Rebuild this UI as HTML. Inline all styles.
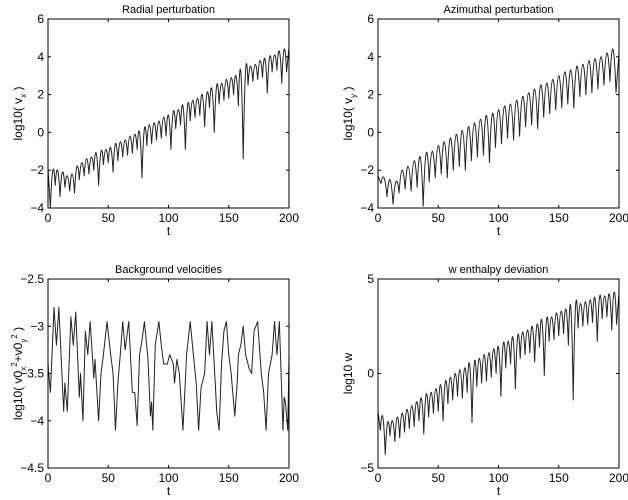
<!DOCTYPE html>
<html><head><meta charset="utf-8"><style>
body{margin:0;background:#fff}
svg{display:block;font-family:"Liberation Sans",Arial,sans-serif}
</style></head><body>
<svg id="fig" width="628" height="500" viewBox="0 0 628 500"></svg>
<script>
// ---- Data ----
const p1PeakT=[0,4,8,12,16,20,24,28,32,36,40,44,48,52,56,60,64,68,72,76,80,84,88,92,96,100,104,108,112,116,120,124,128,132,136,140,144,148,152,156,160,164,168,172,176,180,184,188,192,196,200];
const p1Peaks=[-1.9,-2.0,-2.0,-2.1,-2.3,-2.2,-1.8,-1.6,-1.4,-1.3,-1.1,-1.0,-0.9,-0.8,-0.6,-0.5,-0.4,-0.2,-0.1,0.0,0.2,0.4,0.5,0.6,0.8,0.9,1.1,1.2,1.4,1.5,1.7,1.8,2.0,2.1,2.3,2.5,2.6,2.8,2.9,3.0,3.2,3.3,3.5,3.6,3.8,3.9,4.0,4.1,4.3,4.4,4.5];
const p1Troughs=[-4.0,-2.8,-3.4,-2.9,-3.1,-3.2,-2.5,-2.3,-2.2,-2.0,-2.8,-1.7,-1.6,-2.1,-1.5,-1.3,-1.2,-1.1,-0.9,-2.4,-0.7,-0.6,-0.4,-0.3,-0.2,-0.9,0.2,0.4,-0.9,0.6,0.8,0.9,0.3,1.3,0.0,1.5,1.7,1.8,2.0,1.4,-1.4,2.5,2.7,2.8,2.9,2.1,3.2,3.3,2.6,3.2];

const p2PeakT=[0,5,10,15,20,25,30,35,40,45,50,55,60,65,70,75,80,85,90,95,100,105,110,115,120,125,130,135,140,145,150,155,160,165,170,175,180,185,190,195,200];
const p2Peaks=[-2.3,-2.4,-2.5,-2.6,-2.0,-1.8,-1.5,-1.3,-1.1,-1.0,-0.7,-0.5,-0.3,-0.1,0.1,0.3,0.5,0.7,0.9,1.0,1.2,1.4,1.5,1.7,1.9,2.1,2.3,2.5,2.6,2.8,3.0,3.2,3.3,3.5,3.6,3.8,3.9,4.0,4.2,4.4,4.2];
const p2Troughs=[-2.7,-3.4,-3.8,-3.2,-3.0,-3.1,-2.9,-3.9,-2.6,-2.4,-2.2,-2.4,-2.0,-1.8,-2.0,-1.5,-1.3,-1.2,-1.6,-0.8,-0.6,-0.3,-0.4,-0.2,0.3,0.4,0.2,0.8,1.0,1.2,1.3,1.5,1.3,1.9,2.0,2.1,2.3,2.5,2.7,2.1];

const p3T=[0,2,5,7,9,13,14,16,19,21,23,26,27,29,31,33,35,38,39,42,44,46,49,52,54,56,58,60,62,64,67,70,72,74,76,78,80,83,85,86,87,89,92,94,96,99,101,104,105,107,109,112,115,118,121,123,125,127,130,132,134,136,139,140,142,144,146,148,150,152,155,157,158,160,162,164,167,169,171,174,177,179,181,183,186,188,190,192,195,196,197,199,200];
const p3V=[-3.4,-3.7,-2.8,-3.2,-2.8,-3.9,-3.6,-3.9,-2.9,-3.2,-2.85,-3.75,-3.5,-4.0,-3.05,-3.3,-2.95,-3.55,-3.35,-4.0,-3.5,-3.3,-2.95,-3.3,-3.5,-4.1,-3.6,-3.3,-2.95,-3.25,-2.95,-3.7,-3.7,-4.05,-3.3,-3.15,-2.95,-3.35,-3.95,-3.8,-4.1,-3.2,-2.95,-3.2,-3.4,-3.4,-3.3,-3.4,-3.6,-3.35,-3.5,-4.1,-3.3,-2.95,-3.35,-3.6,-4.1,-3.65,-3.5,-2.95,-3.3,-2.95,-3.65,-3.9,-4.1,-3.4,-3.05,-2.95,-3.3,-3.5,-3.95,-3.6,-3.3,-3.2,-3.0,-3.3,-3.45,-3.5,-3.05,-2.95,-3.5,-3.7,-4.1,-3.5,-3.3,-2.95,-3.3,-2.95,-4.1,-3.75,-3.8,-4.1,-3.3];

const p4Peaks=[-2.0,-2.3,-2.6,-2.5,-2.3,-2.1,-1.9,-1.7,-1.5,-1.3,-1.1,-1.0,-0.8,-0.6,-0.4,-0.2,0.0,0.2,0.3,0.5,0.6,0.8,1.0,1.1,1.3,1.4,1.6,1.7,1.9,2.0,2.2,2.3,2.5,2.6,2.8,2.9,3.0,3.2,3.3,3.4,3.5,3.6,3.7,3.8,3.9,4.0,4.1,4.1,4.2,4.3,4.3];
const p4Troughs=[-3.0,-4.3,-3.3,-3.6,-3.4,-3.1,-2.9,-2.8,-2.5,-3.2,-2.3,-2.1,-2.0,-2.5,-1.6,-1.4,-1.2,-1.3,-1.0,-2.6,-0.7,-0.5,-0.4,-0.2,0.0,-1.2,0.3,0.5,-0.8,0.8,1.0,1.1,0.6,1.4,-0.1,1.7,1.8,2.0,2.1,1.5,-1.4,2.4,2.5,2.6,2.7,1.7,2.9,3.0,2.3,2.6];

const xTicks=[0,50,100,150,200];
const yTicks1=[-4,-2,0,2,4,6], yTicks2=[-4,-2,0,2,4,6];
const yTicks3=[-4.5,-4,-3.5,-3,-2.5], yTicks4=[-5,0,5];

// ---- Drawing ----
const svg=document.getElementById('fig');
const NS='http://www.w3.org/2000/svg';
function mk(tag,attrs,parent){const e=document.createElementNS(NS,tag);for(const k in attrs)e.setAttribute(k,attrs[k]);(parent||svg).appendChild(e);return e;}
function interleave(peakT,peaks,troughs){const t=[],v=[];for(let i=0;i<peaks.length;i++){t.push(peakT[i]);v.push(peaks[i]);if(i<troughs.length){t.push((peakT[i]+peakT[i+1])/2);v.push(troughs[i]);}}return [t,v];}

function panel(name,x0,x1,y0,y1,ymin,ymax,yTicks,title,t,v,ylabelHTML,cusp){
  const g=mk('g',{});
  
  
  const sx=d=>x0+(d-0)/(200-0)*(x1-x0);
  const sy=d=>y1-(d-ymin)/(ymax-ymin)*(y1-y0);
  const clipId=name+'-clip';
  const cp=mk('clipPath',{id:clipId},g);mk('rect',{x:x0,y:y0,width:x1-x0,height:y1-y0},cp);
  let d='';
  if(cusp){
    // peaks rounded (quadratic through peak), troughs sharp
    d='M'+sx(t[0]).toFixed(2)+','+sy(v[0]).toFixed(2)+'L'+sx(t[1]).toFixed(2)+','+sy(v[1]).toFixed(2);
    for(let i=2;i<t.length;i+=2){
      if(i+1<t.length){
        const cy=2*sy(v[i])-(sy(v[i-1])+sy(v[i+1]))/2;
        d+='Q'+sx(t[i]).toFixed(2)+','+cy.toFixed(2)+' '+sx(t[i+1]).toFixed(2)+','+sy(v[i+1]).toFixed(2);
      } else d+='L'+sx(t[i]).toFixed(2)+','+sy(v[i]).toFixed(2);
    }
  } else {
    for(let i=0;i<t.length;i++){d+=(i?'L':'M')+sx(t[i]).toFixed(2)+','+sy(v[i]).toFixed(2);}
  }
  const line=mk('path',{d:d,fill:'none',stroke:'#222','stroke-width':1,'stroke-linejoin':'round','clip-path':'url(#'+clipId+')'},g);
  
  
  const box=mk('rect',{x:x0,y:y0,width:x1-x0,height:y1-y0,fill:'none',stroke:'#000','stroke-width':1},g);
  
  
  xTicks.forEach(tk=>{const X=sx(tk);
    mk('line',{x1:X,x2:X,y1:y1,y2:y1-3,stroke:'#000'},g);mk('line',{x1:X,x2:X,y1:y0,y2:y0+3,stroke:'#000'},g);
    const tx=mk('text',{x:X,y:y1+14,'text-anchor':'middle','font-size':12},g);tx.textContent=tk;
    
    });
  yTicks.forEach(tk=>{const Y=sy(tk);
    mk('line',{x1:x0,x2:x0+3,y1:Y,y2:Y,stroke:'#000'},g);mk('line',{x1:x1,x2:x1-3,y1:Y,y2:Y,stroke:'#000'},g);
    const tx=mk('text',{x:x0-4,y:Y+4,'text-anchor':'end','font-size':12},g);tx.textContent=String(tk).replace('-','\u2212');
    
    });
  const ti=mk('text',{x:(x0+x1)/2,y:y0-6,'text-anchor':'middle','font-size':11},g);ti.textContent=title;
  
  
  const xl=mk('text',{x:(x0+x1)/2,y:y1+27,'text-anchor':'middle','font-size':12},g);xl.textContent='t';
  
  
  const yl=mk('text',{x:0,y:0,'text-anchor':'middle','font-size':12,transform:'translate('+(x0-26)+','+((y0+y1)/2)+') rotate(-90)'},g);
  yl.innerHTML=ylabelHTML;
  
  
}
const [t1,v1]=interleave(p1PeakT,p1Peaks,p1Troughs);
const [t2,v2]=interleave(p2PeakT,p2Peaks,p2Troughs);
const [t4,v4]=interleave(p1PeakT,p4Peaks,p4Troughs);
panel('radial-panel',48,289,19,208,-4,6,yTicks1,'Radial perturbation',t1,v1,'log10( v<tspan font-size="8" dy="4">x</tspan><tspan dy="-4"> )</tspan>',true);
panel('azimuthal-panel',378,619,19,208,-4,6,yTicks2,'Azimuthal perturbation',t2,v2,'log10( v<tspan font-size="8" dy="4">y</tspan><tspan dy="-4"> )</tspan>',true);
panel('background-panel',48,289,279,468,-4.5,-2.5,yTicks3,'Background velocities',p3T,p3V,'log10( v0<tspan font-size="8" dy="4">x</tspan><tspan font-size="8" dy="-9">2</tspan><tspan dy="5">+v0</tspan><tspan font-size="8" dy="4">y</tspan><tspan font-size="8" dy="-9">2</tspan><tspan dy="5"> )</tspan>',false);
panel('enthalpy-panel',378,619,279,468,-5,5,yTicks4,'w enthalpy deviation',t4,v4,'log10 w',true);
</script>
</body></html>
